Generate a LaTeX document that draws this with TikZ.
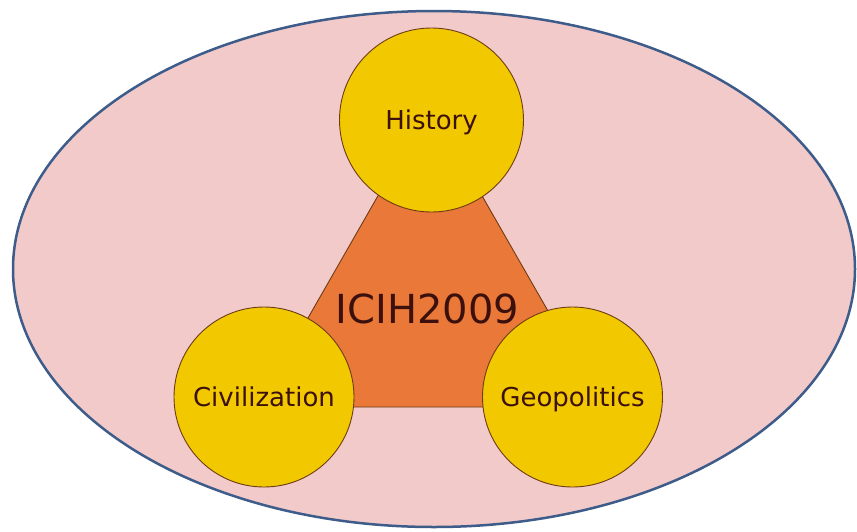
\documentclass[tikz,border=0pt]{standalone}
\usepackage{fontspec}
\setmainfont{DejaVu Sans}
\definecolor{bgpink}{RGB}{242,202,202}
\definecolor{ellblue}{RGB}{62,92,138}
\definecolor{triorange}{RGB}{234,120,56}
\definecolor{discgold}{RGB}{242,200,0}
\definecolor{edgebrown}{RGB}{110,60,20}
\definecolor{textbrown}{RGB}{60,16,12}
\tikzset{
  topicdisc/.style={circle, draw=edgebrown, line width=0.9pt, fill=discgold,
    inner sep=0pt, text depth=0pt, text=textbrown, font=\fontsize{26}{30}\selectfont},
}
\begin{document}
\begin{tikzpicture}[x=1pt,y=-1pt]
\useasboundingbox (0,0) rectangle (857,531);
% outer ellipse
\draw[ellblue, fill=bgpink, line width=2.5pt] (434,269) ellipse [x radius=421, y radius=258];
% central triangle
\coordinate (tA) at (430,105);
\coordinate (tB) at (257,407);
\coordinate (tC) at (603,407);
\draw[edgebrown, fill=triorange, line width=0.9pt, line join=round] (tA) -- (tB) -- (tC) -- cycle;
% circles
\node[topicdisc, minimum size=184pt] (hist) at (431.5,120) {History};
\node[topicdisc, minimum size=180pt] (civ) at (264,397) {Civilization};
\node[topicdisc, minimum size=180pt] (geo) at (572.5,397) {Geopolitics};
% centre title
\node[anchor=base, inner sep=0pt, text=textbrown, font=\fontsize{40}{44}\selectfont] (title) at (427.5,323) {ICIH2009};
\end{tikzpicture}
\end{document}
